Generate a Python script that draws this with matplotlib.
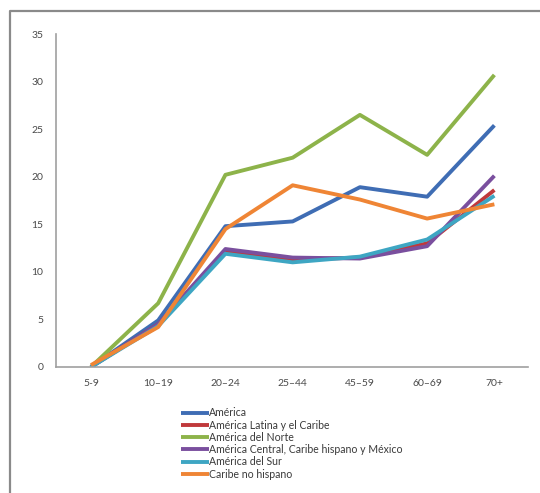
import matplotlib
matplotlib.use("Agg")
import matplotlib.pyplot as plt
from matplotlib.lines import Line2D

plt.rcParams["font.family"] = ["Lato", "DejaVu Sans"]

categories = ["5-9", "10\u201319", "20\u201324", "25\u201344", "45\u201359", "60\u201369", "70+"]

america = [0.0, 4.9, 14.8, 15.3, 18.9, 17.9, 25.4]
latina_caribe = [0.0, 4.5, 12.2, 11.3, 11.5, 13.0, 18.6]
norte = [0.0, 6.7, 20.2, 22.0, 26.5, 22.3, 30.7]
central = [0.0, 4.5, 12.4, 11.5, 11.4, 12.7, 20.1]
sur = [0.0, 4.3, 11.9, 11.0, 11.6, 13.4, 18.0]
caribe_no_hisp = [0.2, 4.2, 14.5, 19.1, 17.6, 15.6, 17.1]

series = [
    ("Am\u00e9rica", america, "#3f6db4"),
    ("Am\u00e9rica Latina y el Caribe", latina_caribe, "#c0393b"),
    ("Am\u00e9rica del Norte", norte, "#8db34a"),
    ("Am\u00e9rica Central, Caribe hispano y M\u00e9xico", central, "#7a4f9e"),
    ("Am\u00e9rica del Sur", sur, "#3ea6c3"),
    ("Caribe no hispano", caribe_no_hisp, "#ef8535"),
]

fig = plt.figure(figsize=(5.4, 4.93), dpi=100)
ax = fig.add_axes([56 / 540, 1 - 367 / 493, 472 / 540, 333 / 493])

x = range(len(categories))
for name, vals, col in series:
    ax.plot(x, vals, color=col, lw=2.8, label=name, solid_capstyle="butt")

ax.set_xlim(-0.52, 6.5)
ax.set_ylim(0, 35)
ax.set_yticks(range(0, 36, 5))
ax.set_xticks(list(x))
ax.set_xticklabels(categories)
ax.tick_params(length=0, labelsize=7.5, colors="#4a4a4a", pad=9)
for s in ["top", "right"]:
    ax.spines[s].set_visible(False)
for s in ["left", "bottom"]:
    ax.spines[s].set_color("#a0a0a0")
    ax.spines[s].set_linewidth(1.2)

fig.legend(loc="upper left", bbox_to_anchor=(176 / 540, 1 - 402 / 493),
           frameon=False, fontsize=7.6, handlelength=2.6, handletextpad=0.05,
           labelspacing=0.12, borderpad=0, labelcolor="#3a3a3a")

# outer frame (left and top edges only)
fig.add_artist(Line2D([10 / 540, 10 / 540, 1], [0, 1 - 11 / 493, 1 - 11 / 493],
                      transform=fig.transFigure, color="#8a8a8a", lw=1.6))

fig.savefig("out.png", dpi=100)
